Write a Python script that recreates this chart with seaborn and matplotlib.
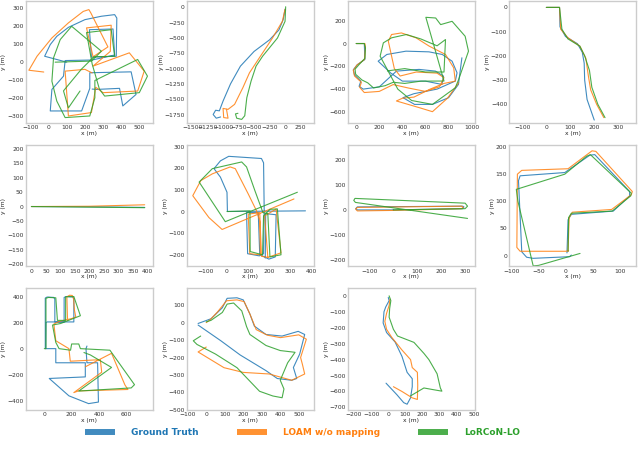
import numpy as np
import pandas as pd
import matplotlib
matplotlib.use("Agg")
import matplotlib.pyplot as plt
import seaborn as sns
from matplotlib.lines import Line2D
from matplotlib.ticker import MultipleLocator

# trajectories (x, y) in metres
# seq 1
gt_1 = [(100, 0), (-22, 33), (9, 98), (45, 144), (109, 194), (200, 237), (291, 256), (364, 265), (376, 246),
        (373, 33), (236, 28), (225, 181), (355, 185), (364, 40), (240, 12), (91, 9), (82, -78), (18, -152),
        (9, -272), (182, -272), (227, -146), (227, -59), (455, -54), (482, -180), (409, -244), (391, -146),
        (264, -152), (240, -150)]
loam_1 = [(-27, -55), (-109, -45), (-64, 33), (18, 135), (109, 219), (191, 283), (222, 293), (233, 274),
          (327, 85), (245, 30), (209, 191), (345, 206), (340, 60), (245, -22), (445, 52), (527, -50),
          (491, -161), (300, -170), (260, -140), (236, -281), (109, -300), (91, -50), (200, -40), (240, -60)]
lorcon_1 = [(36, 0), (236, 6), (291, 61), (127, 200), (64, 126), (27, 24), (18, -106), (45, -217), (91, -309),
            (227, -300), (255, -198), (255, -102), (491, 15), (545, -78), (500, -170), (309, -189), (280, -150),
            (240, -10), (209, 165), (345, 181), (364, 33), (250, 30), (180, -40), (82, -160), (109, -255),
            (173, -161)]
# seq 2
gt_2 = [(0, -30), (-30, -200), (-100, -370), (-250, -530), (-500, -720), (-720, -960), (-880, -1250),
        (-1000, -1530), (-1060, -1690), (-1120, -1680), (-1160, -1750), (-1110, -1810), (-1040, -1790)]
loam_2 = [(0, -30), (-43, -228), (-202, -500), (-415, -825), (-574, -1069), (-681, -1313), (-814, -1584),
          (-920, -1666), (-1000, -1650), (-990, -1800), (-920, -1810), (-945, -1665)]
lorcon_2 = [(10, 10), (0, -228), (-122, -500), (-362, -798), (-468, -960), (-548, -1204), (-617, -1476),
            (-650, -1770), (-700, -1830), (-780, -1810), (-800, -1740), (-760, -1730)]
# seq 3
gt_3 = [(0, 0), (70, 0), (75, -140), (10, -185), (-25, -230), (-15, -275), (40, -330), (25, -375), (60, -400),
        (200, -380), (348, -242), (544, -227), (686, -242), (756, -286), (742, -359), (600, -330), (400, -330),
        (300, -260), (190, -155), (265, -96), (431, -67), (630, -73), (745, -96), (830, -155), (873, -257),
        (858, -329), (700, -400), (500, -440), (405, -475), (505, -534), (660, -534), (800, -475), (885, -359),
        (915, -125)]
loam_3 = [(0, 0), (75, 0), (80, -30), (72, -140), (5, -190), (-25, -235), (-15, -285), (45, -340), (30, -385),
          (70, -430), (200, -420), (320, -360), (450, -390), (600, -420), (720, -380), (760, -300), (700, -260),
          (520, -250), (380, -285), (330, -220), (278, 20), (306, 79), (391, 93), (518, 50), (632, -23),
          (773, -96), (844, -213), (858, -330), (760, -350), (640, -400), (500, -470), (400, -480), (348, -504),
          (547, -563), (660, -598), (790, -480), (887, -344)]
lorcon_3 = [(0, 0), (70, 0), (80, -40), (75, -130), (20, -190), (-10, -225), (-5, -270), (50, -320), (100, -345),
            (150, -390), (250, -370), (320, -340), (420, -350), (560, -330), (760, -329), (603, 230), (688, 224),
            (731, 166), (830, 195), (943, 64), (972, -67), (887, -315), (858, -388), (660, -534), (480, -500),
            (360, -400), (207, -111), (235, 6), (306, 50), (434, 79), (560, 40), (700, -20), (773, 35),
            (760, -250), (600, -250), (420, -220), (270, -240)]
# seq 4
gt_4 = [(0, 0), (55, 0), (57, -80), (80, -120), (130, -150), (150, -185), (158, -230), (160, -300),
        (170, -380), (200, -465)]
loam_4 = [(0, 0), (55, 0), (60, -90), (90, -125), (140, -160), (165, -210), (175, -280), (185, -340),
          (210, -400), (240, -455)]
lorcon_4 = [(0, 0), (55, 0), (65, -90), (90, -130), (140, -160), (160, -200), (180, -260), (190, -330),
            (215, -400), (245, -455)]
# seq 5
gt_5 = [(0, 0), (200, -1), (390, -3)]
loam_5 = [(0, 0), (200, 1), (390, 6)]
lorcon_5 = [(0, 0), (200, -2), (390, -4)]
# seq 6
gt_6 = [(372, 3), (5, 0), (3, 89), (-28, 159), (-58, 198), (-28, 234), (11, 255), (165, 245), (175, 225),
        (178, 5), (175, -195), (155, -205), (100, -195), (95, -5), (150, -5), (157, -199), (200, -220),
        (230, -210), (234, -15), (185, -10), (183, -215)]
loam_6 = [(318, 58), (-20, -83), (-82, -28), (-158, 73), (-120, 143), (-66, 174), (18, 206), (42, 198),
          (103, 81), (142, 3), (157, -44), (160, -200), (110, -195), (103, -12), (157, -5), (165, -207),
          (195, -212), (180, -20), (234, 11), (257, -191), (195, -212)]
lorcon_6 = [(3, 0), (111, 3), (112, -185), (170, -200), (175, -20), (205, 10), (240, 12), (257, -200),
            (205, -210), (195, -10), (172, -5), (134, 97), (95, 206), (72, 229), (-66, 198), (-128, 136),
            (-5, -47), (334, 89)]
# seq 7
gt_7 = [(0, 0), (290, 5), (295, 12), (290, 15), (-150, 12), (-157, 5), (-150, 0), (0, 0)]
loam_7 = [(0, -2), (285, 5), (292, 10), (285, 15), (-150, 10), (-157, 3), (-150, -4), (0, -2)]
lorcon_7 = [(0, 0), (300, 5), (310, 15), (300, 27), (-160, 46), (-165, 38), (-158, 30), (310, -34)]
# seq 8
gt_8 = [(2, 5), (4, 66), (10, 76), (87, 82), (117, 110), (117, 118), (53, 186), (44, 185), (-2, 153),
        (-84, 147), (-87, 138), (-81, 7), (-72, -3), (-60, -5), (7, -2), (10, 1)]
loam_8 = [(4, 8), (6, 70), (12, 80), (84, 85), (120, 112), (122, 118), (55, 192), (48, 193), (4, 160),
          (-81, 157), (-89, 150), (-90, 15), (-84, 8), (0, 8), (5, 9)]
lorcon_8 = [(4, 8), (5, 70), (10, 78), (85, 82), (119, 110), (120, 115), (45, 186), (38, 183), (-2, 150),
            (-91, 122), (-88, 100), (-60, -19), (-50, -18), (26, 4)]
# seq 9
gt_9 = [(7, 0), (7, 390), (20, 398), (70, 395), (77, 380), (77, 206), (145, 206), (145, 395), (160, 402),
        (210, 398), (216, 385), (216, 206), (20, 206), (12, 200), (10, 0), (84, 0), (84, -109), (300, -109),
        (300, -218), (36, -230), (180, -364), (324, -424), (396, -412), (390, -109), (312, -109), (305, 0),
        (312, 20)]
loam_9 = [(170, 218), (165, 400), (185, 412), (205, 410), (215, 380), (220, 300), (230, 245), (200, 232),
          (110, 210), (70, 190), (84, 61), (180, 0), (190, -97), (410, -85), (420, -182), (216, -339),
          (250, -326), (612, -315), (590, -280), (492, -36), (300, -140)]
lorcon_9 = [(0, 0), (12, 0), (12, 388), (30, 395), (84, 392), (96, 218), (156, 218), (156, 400), (216, 402),
            (264, 254), (120, 194), (60, 182), (84, 48), (108, 0), (192, -12), (200, 36), (252, 36), (264, 0),
            (480, -12), (660, -278), (636, -303), (252, -327), (492, -145), (336, -48), (290, -30)]
# seq 10
gt_10 = [(-44, -5), (26, 22), (87, 85), (113, 139), (166, 142), (200, 130), (236, 49), (260, -20), (323, -68),
         (410, -77), (497, -50), (532, -68), (505, -180), (471, -257), (489, -320), (462, -330), (384, -320),
         (323, -275), (183, -185), (79, -104), (-44, -14)]
loam_10 = [(0, -140), (-44, -168), (96, -258), (200, -285), (340, -294), (462, -330), (532, -294),
           (520, -240), (510, -200), (541, -95), (500, -70), (401, -86), (330, -72), (270, -40), (236, 49),
           (205, 120), (166, 130), (110, 125), (60, 60), (20, 15), (0, 0)]
lorcon_10 = [(-30, -77), (-70, -104), (-50, -125), (50, -180), (166, -258), (288, -393), (360, -420),
             (410, -430), (420, -380), (400, -330), (440, -230), (480, -170), (400, -160), (323, -131),
             (236, -68), (218, -23), (192, 67), (148, 112), (113, 106), (87, 58), (26, 13), (0, 4)]
# seq 11
gt_11 = [(0, -10), (5, -30), (-15, -70), (-25, -100), (-30, -170), (-10, -230), (40, -290), (80, -380),
         (110, -480), (140, -520), (140, -570), (130, -640), (110, -680), (90, -670), (50, -620), (-13, -548)]
loam_11 = [(10, -20), (5, -60), (-10, -110), (-20, -160), (-10, -210), (20, -260), (80, -340), (130, -400),
           (140, -450), (170, -480), (172, -560), (170, -650), (140, -640), (80, -600), (30, -570)]
lorcon_11 = [(5, 0), (15, -30), (8, -80), (5, -134), (30, -210), (54, -252), (150, -292), (208, -361),
             (237, -400), (285, -489), (304, -578), (313, -598), (270, -590), (208, -578), (131, -627)]

names = ["Ground Truth", "LOAM w/o mapping", "LoRCoN-LO"]
colors = ["#1f77b4", "#ff7f0e", "#2ca02c"]

# view window and tick step of each panel
xlims = [(-127, 573), (-1585, 463), (-71, 1028), (-155, 375), (-20, 417), (-186, 411),
         (-189, 341), (-104, 129), (-137, 792), (-105, 581), (-235, 506)]
ylims = [(-339, 339), (-1888, 98), (-697, 370), (-477, 25), (-207, 213), (-254, 308),
         (-226, 260), (-20, 204), (-473, 465), (-500, 196), (-716, 47)]
steps = [100, 250, 200, 100, 50, 100, 100, 50, 200, 100, 100]

seqs = [(gt_1, loam_1, lorcon_1), (gt_2, loam_2, lorcon_2), (gt_3, loam_3, lorcon_3),
        (gt_4, loam_4, lorcon_4), (gt_5, loam_5, lorcon_5), (gt_6, loam_6, lorcon_6),
        (gt_7, loam_7, lorcon_7), (gt_8, loam_8, lorcon_8), (gt_9, loam_9, lorcon_9),
        (gt_10, loam_10, lorcon_10), (gt_11, loam_11, lorcon_11)]

sns.set_theme(style="white")
fig, axes = plt.subplots(3, 4, figsize=(6.4, 4.53), dpi=100)
fig.subplots_adjust(left=0.04, right=0.994, top=0.997, bottom=0.095, wspace=0.27, hspace=0.18)
axes = axes.ravel()

for i, ax in enumerate(axes):
    if i >= len(seqs):
        ax.axis("off")
        continue
    for pts, c in zip(seqs[i], colors):
        d = pd.DataFrame(pts, columns=["x", "y"])
        sns.lineplot(data=d, x="x", y="y", sort=False, estimator=None, color=c, lw=0.8,
                     alpha=0.85, ax=ax)
    ax.set_xlim(xlims[i])
    ax.set_ylim(ylims[i])
    ax.xaxis.set_major_locator(MultipleLocator(steps[i]))
    ax.yaxis.set_major_locator(MultipleLocator(steps[i]))
    ax.set_xlabel("x (m)", fontsize=4.3, labelpad=0.5)
    ax.set_ylabel("y (m)", fontsize=4.3, labelpad=0.5)
    ax.tick_params(labelsize=4.3, pad=1.5, length=0, colors="#333333")
    for s in ax.spines.values():
        s.set_color("#cccccc")
        s.set_linewidth(1.0)

handles = [Line2D([], [], color=c, lw=4.3, alpha=0.85, solid_capstyle="butt") for c in colors]
leg = fig.legend(handles, names, loc="center", bbox_to_anchor=(0.473, 0.046), ncol=3, frameon=False,
                 fontsize=6.5, handlelength=3.3, handletextpad=1.8, columnspacing=4.2)
for t, c in zip(leg.get_texts(), colors):
    t.set_color(c)
    t.set_fontweight("bold")

fig.savefig("out.png", dpi=100)
